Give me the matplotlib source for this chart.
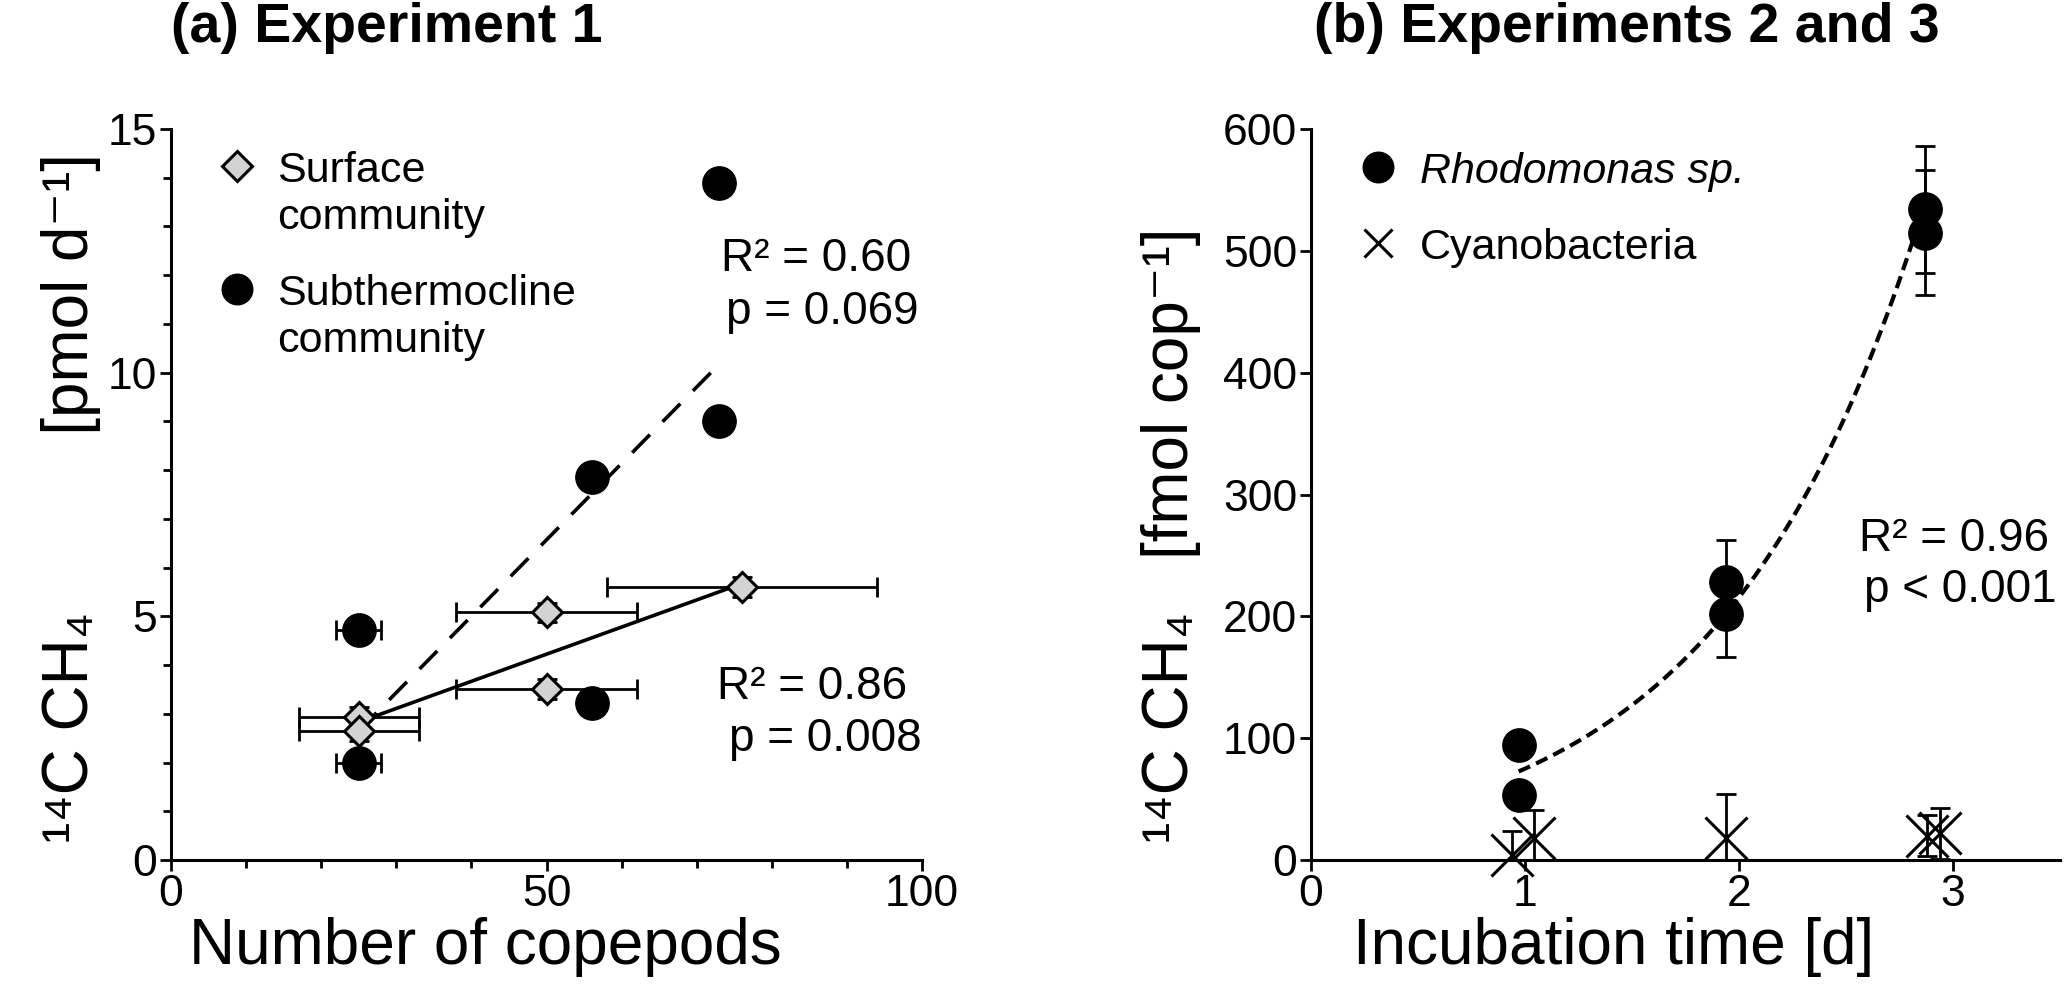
import numpy as np
import matplotlib
matplotlib.use("Agg")
import matplotlib.pyplot as plt
from matplotlib.ticker import MultipleLocator

plt.rcParams['font.family'] = ['Liberation Sans', 'DejaVu Sans']

# (a) Experiment 1 - surface community (diamonds)
surf_x = [25, 25, 50, 50, 76]
surf_y = [2.94, 2.65, 5.08, 3.51, 5.60]
surf_xerr = [8, 8, 12, 12, 18]
surf_yerr = [0.2, 0.2, 0.2, 0.2, 0.2]

# (a) subthermocline community (circles)
sub_x = [25, 25, 56, 56, 73, 73]
sub_y = [4.72, 1.98, 7.85, 3.23, 13.9, 9.0]
sub_xerr = [3, 3, 1, 1, 1.5, 1.5]

# (b) Experiments 2 and 3
rho_x = [0.97, 0.97, 1.94, 1.94, 2.87, 2.87]
rho_y = [94, 53, 228, 202, 534, 515]
rho_err = [4, 4, 35, 35, 52, 51]

cyano_x = [0.94, 1.04, 1.94, 2.88, 2.94]
cyano_y = [4, 18, 18, 20, 22]
cyano_err = [20, 23, 36, 17, 21]

TICK_FS = 32
LABEL_FS = 46
LEG_FS = 31
ANN_FS = 33
TITLE_FS = 40
GREY = '#d3d3d3'

fig = plt.figure(figsize=(20.66, 9.98), dpi=100)
ax1 = fig.add_axes([0.0828, 0.1383, 0.3635, 0.7324])
ax2 = fig.add_axes([0.6346, 0.1383, 0.3625, 0.7324])

for ax in (ax1, ax2):
    for s in ('top', 'right'):
        ax.spines[s].set_visible(False)
    for s in ('left', 'bottom'):
        ax.spines[s].set_linewidth(2.2)
    ax.tick_params(which='major', direction='out', length=8, width=2.0,
                   labelsize=TICK_FS, pad=2)
    ax.tick_params(which='minor', direction='out', length=6, width=2.0)

# ---- panel (a) ----
ax1.errorbar(surf_x, surf_y, xerr=surf_xerr, yerr=surf_yerr, fmt='none',
             ecolor='black', elinewidth=2, capsize=7, capthick=2, zorder=2)
ax1.errorbar(sub_x, sub_y, xerr=sub_xerr, fmt='none',
             ecolor='black', elinewidth=2, capsize=7, capthick=2, zorder=2)

# regression lines
p_surf = np.polyfit(surf_x, surf_y, 1)
xs = np.array([min(surf_x), max(surf_x)])
ax1.plot(xs, np.polyval(p_surf, xs), color='black', lw=2.6, zorder=3)
p_sub = np.polyfit(sub_x, sub_y, 1)
xs = np.array([min(sub_x), max(sub_x)])
ax1.plot(xs, np.polyval(p_sub, xs), color='black', lw=2.6, dashes=(7, 5), zorder=3)

ax1.plot(surf_x, surf_y, 'D', ms=15.5, mfc=GREY, mec='black', mew=2.2, zorder=4)
ax1.plot(sub_x, sub_y, 'o', ms=24, mfc='black', mec='black', zorder=4)

ax1.set_xlim(0, 100)
ax1.set_ylim(0, 15)
ax1.xaxis.set_major_locator(MultipleLocator(50))
ax1.xaxis.set_minor_locator(MultipleLocator(10))
ax1.yaxis.set_major_locator(MultipleLocator(5))
ax1.yaxis.set_minor_locator(MultipleLocator(1))

# legend (a)
ax1.plot([0.088], [0.949], 'D', ms=15, mfc=GREY, mec='black', mew=2.2,
         transform=ax1.transAxes, clip_on=False)
ax1.text(0.141, 0.949, 'Surface', fontsize=LEG_FS, va='center_baseline', transform=ax1.transAxes)
ax1.text(0.141, 0.884, 'community', fontsize=LEG_FS, va='center_baseline', transform=ax1.transAxes)
ax1.plot([0.088], [0.781], 'o', ms=22, color='black', transform=ax1.transAxes, clip_on=False)
ax1.text(0.141, 0.781, 'Subthermocline', fontsize=LEG_FS, va='center_baseline', transform=ax1.transAxes)
ax1.text(0.141, 0.716, 'community', fontsize=LEG_FS, va='center_baseline', transform=ax1.transAxes)

ax1.text(0.985, 0.829, 'R² = 0.60', fontsize=ANN_FS, ha='right', va='center_baseline', transform=ax1.transAxes)
ax1.text(0.995, 0.756, 'p = 0.069', fontsize=ANN_FS, ha='right', va='center_baseline', transform=ax1.transAxes)
ax1.text(0.98, 0.243, 'R² = 0.86', fontsize=ANN_FS, ha='right', va='center_baseline', transform=ax1.transAxes)
ax1.text(1.0, 0.172, 'p = 0.008', fontsize=ANN_FS, ha='right', va='center_baseline', transform=ax1.transAxes)

# ---- panel (b) ----
ax2.errorbar(rho_x, rho_y, yerr=rho_err, fmt='none', ecolor='black',
             elinewidth=2, capsize=7, capthick=2, zorder=2)
ax2.errorbar(cyano_x, cyano_y, yerr=cyano_err, fmt='none', ecolor='black',
             elinewidth=2, capsize=7, capthick=2, zorder=2)

# exponential fit
p_exp = np.polyfit(rho_x, np.log(rho_y), 1)
xs = np.linspace(min(rho_x), max(rho_x), 200)
ax2.plot(xs, np.exp(p_exp[1]) * np.exp(p_exp[0] * xs), color='black', lw=3,
         dashes=(3, 1.6), zorder=3)

ax2.plot(rho_x, rho_y, 'o', ms=24, color='black', zorder=4)
ax2.plot(cyano_x, cyano_y, 'x', ms=30, mec='black', mew=2.2, zorder=4, clip_on=False)

ax2.set_xlim(0, 3.5)
ax2.set_ylim(0, 600)
ax2.xaxis.set_major_locator(MultipleLocator(1))
ax2.yaxis.set_major_locator(MultipleLocator(100))

ax2.plot([0.0895], [0.948], 'o', ms=22, color='black', transform=ax2.transAxes, clip_on=False)
ax2.text(0.1455, 0.948, 'Rhodomonas sp.', fontsize=LEG_FS, style='italic',
         va='center_baseline', transform=ax2.transAxes)
ax2.plot([0.0895], [0.844], 'x', ms=20, mec='black', mew=2.2, transform=ax2.transAxes, clip_on=False)
ax2.text(0.1455, 0.844, 'Cyanobacteria', fontsize=LEG_FS, va='center_baseline', transform=ax2.transAxes)

ax2.text(0.985, 0.446, 'R² = 0.96', fontsize=ANN_FS, ha='right', va='center_baseline', transform=ax2.transAxes)
ax2.text(0.995, 0.376, 'p < 0.001', fontsize=ANN_FS, ha='right', va='center_baseline', transform=ax2.transAxes)

# titles and axis labels
fig.text(0.083, 0.972, '(a) Experiment 1', fontsize=TITLE_FS, fontweight='bold', ha='left', va='center')
fig.text(0.636, 0.972, '(b) Experiments 2 and 3', fontsize=TITLE_FS, fontweight='bold', ha='left', va='center')

fig.text(0.235, 0.034, 'Number of copepods', fontsize=LABEL_FS, ha='center', va='baseline')
fig.text(0.781, 0.034, 'Incubation time [d]', fontsize=LABEL_FS, ha='center', va='baseline')

fig.text(0.0345, 0.155, '¹⁴C CH₄          [pmol d⁻¹]', fontsize=LABEL_FS, rotation=90,
         ha='center', va='bottom')
fig.text(0.567, 0.155, '¹⁴C CH₄   [fmol cop⁻¹]', fontsize=LABEL_FS, rotation=90,
         ha='center', va='bottom')

fig.savefig('out.png', dpi=100)
